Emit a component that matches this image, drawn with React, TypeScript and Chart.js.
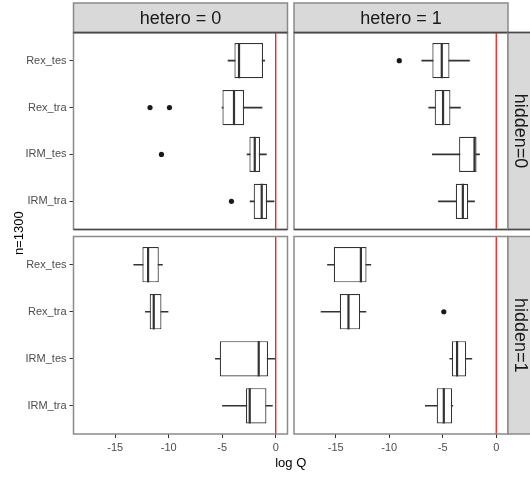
import React, { useEffect, useRef } from "react";
import { Chart, registerables } from "chart.js";

Chart.register(...registerables);
Chart.defaults.font.family = "'Liberation Sans', Arial, sans-serif";

// ---------- data ----------
const categories = ["Rex_tes", "Rex_tra", "IRM_tes", "IRM_tra"];
const xTickValues = [-15, -10, -5, 0];
const heteroLabels = ["hetero = 0", "hetero = 1"];
const hiddenLabels = ["hidden=0", "hidden=1"];
const xTitle = "log Q";
const yTitle = "n=1300";
const refLine = 0;

// hetero = 0, hidden = 0
const het0hid0Low = [-4.46, -5.02, -2.68, -2.4];
const het0hid0Q1 = [-3.86, -4.98, -2.46, -2.06];
const het0hid0Med = [-3.43, -3.9, -1.96, -1.31];
const het0hid0Q3 = [-1.19, -2.96, -1.47, -0.81];
const het0hid0High = [-1.03, -1.28, -0.87, -0.16];
const het0hid0Out = [[], [-11.75, -9.93], [-10.68], [-4.14]];

// hetero = 1, hidden = 0
const het1hid0Low = [-6.96, -6.31, -5.97, -5.4];
const het1hid0Q1 = [-5.97, -5.75, -3.47, -3.78];
const het1hid0Med = [-5.09, -4.97, -2.03, -3.12];
const het1hid0Q3 = [-4.37, -4.28, -1.84, -2.62];
const het1hid0High = [-2.5, -3.34, -1.56, -2.03];
const het1hid0Out = [[-9.06], [], [], []];

// hetero = 0, hidden = 1
const het0hid1Low = [-13.27, -12.18, -5.64, -4.98];
const het0hid1Q1 = [-12.46, -11.78, -5.23, -2.78];
const het0hid1Med = [-11.93, -11.4, -1.59, -2.43];
const het0hid1Q3 = [-10.93, -10.68, -0.72, -0.87];
const het0hid1High = [-10.59, -10.06, 0, -0.31];
const het0hid1Out: number[][] = [[], [], [], []];

// hetero = 1, hidden = 1
const het1hid1Low = [-15.77, -16.37, -4.34, -6.63];
const het1hid1Q1 = [-15.18, -14.62, -4.15, -5.56];
const het1hid1Med = [-12.65, -13.81, -3.66, -4.9];
const het1hid1Q3 = [-12.12, -12.72, -2.81, -4.12];
const het1hid1High = [-11.72, -12.18, -2.28, -4.06];
const het1hid1Out = [[], [-4.9], [], []];

type PanelDef = {
  row: number;
  col: number;
  low: number[];
  q1: number[];
  med: number[];
  q3: number[];
  high: number[];
  out: number[][];
};

const panels: PanelDef[] = [
  { row: 0, col: 0, low: het0hid0Low, q1: het0hid0Q1, med: het0hid0Med, q3: het0hid0Q3, high: het0hid0High, out: het0hid0Out },
  { row: 0, col: 1, low: het1hid0Low, q1: het1hid0Q1, med: het1hid0Med, q3: het1hid0Q3, high: het1hid0High, out: het1hid0Out },
  { row: 1, col: 0, low: het0hid1Low, q1: het0hid1Q1, med: het0hid1Med, q3: het0hid1Q3, high: het0hid1High, out: het0hid1Out },
  { row: 1, col: 1, low: het1hid1Low, q1: het1hid1Q1, med: het1hid1Med, q3: het1hid1Q3, high: het1hid1High, out: het1hid1Out },
];

// ---------- layout / style ----------
const W = 530;
const H = 479;
const X_MIN = -18.9;
const X_MAX = 1.1;
const Y_MIN = -0.6;
const Y_MAX = 3.6;
const FONT = "'Liberation Sans', Arial, sans-serif";
const BOX_COLOR = "#333333";
const PANEL_SIDE = "#8a8a8a";
const PANEL_EDGE = "#4a4a4a";
const STRIP_FILL = "#d9d9d9";

const colPad = [
  { left: 0, axisW: 73.5, right: W - 287.5 },
  { left: 294, axisW: 0, right: W - 508 },
];
const rowPad = [
  { top: 32.5, bottom: H - 229.5, axisH: 0 },
  { top: 236.5, bottom: H - 434 - 20, axisH: 20 },
];

function makeConfig(p: PanelDef): any {
  const boxData = categories.map((_, i) => ({ x: [p.q1[i], p.q3[i]], y: i }));
  const whiskerData = categories.map((_, i) => ({ x: [p.low[i], p.high[i]], y: i }));
  const outData: { x: number; y: number }[] = [];
  p.out.forEach((arr, i) => arr.forEach((v) => outData.push({ x: v, y: i })));

  const decor = {
    id: "facetDecor",
    afterDatasetsDraw(chart: any) {
      const ctx = chart.ctx;
      const xs = chart.scales.x;
      const ys = chart.scales.y;
      const { top, bottom } = chart.chartArea;
      // reference line
      ctx.save();
      ctx.strokeStyle = "#ff0000";
      ctx.lineWidth = 1.2;
      const rx = xs.getPixelForValue(refLine);
      ctx.beginPath();
      ctx.moveTo(rx, top);
      ctx.lineTo(rx, bottom);
      ctx.stroke();
      // medians
      const meta = chart.getDatasetMeta(0);
      ctx.strokeStyle = BOX_COLOR;
      ctx.lineWidth = 2.2;
      p.med.forEach((m, i) => {
        const el = meta.data[i];
        const h = el.height;
        const px = xs.getPixelForValue(m);
        const py = ys.getPixelForValue(i);
        ctx.beginPath();
        ctx.moveTo(px, py - h / 2);
        ctx.lineTo(px, py + h / 2);
        ctx.stroke();
      });
      ctx.restore();
    },
    afterDraw(chart: any) {
      const ctx = chart.ctx;
      const { left, right, top, bottom } = chart.chartArea;
      ctx.save();
      // panel border
      ctx.lineWidth = 1.5;
      ctx.strokeStyle = PANEL_SIDE;
      ctx.strokeRect(left, top, right - left, bottom - top);
      ctx.strokeStyle = PANEL_EDGE;
      ctx.beginPath();
      if (p.row === 0) {
        ctx.moveTo(left, top);
        ctx.lineTo(right, top);
        ctx.moveTo(left, bottom);
        ctx.lineTo(right, bottom);
      }
      ctx.stroke();

      // top strip
      if (p.row === 0) {
        const sTop = 3;
        ctx.fillStyle = STRIP_FILL;
        ctx.fillRect(left, sTop, right - left, top - sTop);
        ctx.strokeStyle = PANEL_SIDE;
        ctx.lineWidth = 1.5;
        ctx.strokeRect(left, sTop, right - left, top - sTop);
        ctx.strokeStyle = PANEL_EDGE;
        ctx.beginPath();
        ctx.moveTo(left, top);
        ctx.lineTo(right, top);
        ctx.stroke();
        ctx.fillStyle = "#1a1a1a";
        ctx.font = `18px ${FONT}`;
        ctx.textAlign = "center";
        ctx.textBaseline = "middle";
        ctx.fillText(heteroLabels[p.col], (left + right) / 2, (sTop + top) / 2 + 1);
      }
      // right strip
      if (p.col === 1) {
        const sw = 24;
        ctx.fillStyle = STRIP_FILL;
        ctx.fillRect(right, top, sw, bottom - top);
        ctx.strokeStyle = PANEL_SIDE;
        ctx.lineWidth = 1.5;
        ctx.strokeRect(right, top, sw, bottom - top);
        if (p.row === 0) {
          ctx.strokeStyle = PANEL_EDGE;
          ctx.beginPath();
          ctx.moveTo(right, top);
          ctx.lineTo(right + sw, top);
          ctx.moveTo(right, bottom);
          ctx.lineTo(right + sw, bottom);
          ctx.stroke();
        }
        ctx.save();
        ctx.translate(right + 12, (top + bottom) / 2);
        ctx.rotate(Math.PI / 2);
        ctx.fillStyle = "#1a1a1a";
        ctx.font = `18px ${FONT}`;
        ctx.textAlign = "center";
        ctx.textBaseline = "middle";
        ctx.fillText(hiddenLabels[p.row], 0, 0);
        ctx.restore();
      }
      // axis titles (drawn once, on the bottom-left panel)
      if (p.row === 1 && p.col === 0) {
        ctx.fillStyle = "#000000";
        ctx.font = `13px ${FONT}`;
        ctx.textAlign = "center";
        ctx.textBaseline = "middle";
        ctx.fillText(xTitle, (73.5 + 508) / 2, 463);
        ctx.save();
        ctx.translate(19, (32.5 + 434) / 2);
        ctx.rotate(-Math.PI / 2);
        ctx.fillText(yTitle, 0, 0);
        ctx.restore();
      }
      ctx.restore();
    },
  };

  const cp = colPad[p.col];
  const rp = rowPad[p.row];

  return {
    type: "bar",
    data: {
      datasets: [
        {
          type: "bar",
          indexAxis: "y",
          data: boxData,
          backgroundColor: "#ffffff",
          borderColor: BOX_COLOR,
          borderWidth: 1.2,
          borderSkipped: false,
          grouped: false,
          barPercentage: 0.75,
          categoryPercentage: 1,
          order: 1,
        },
        {
          type: "bar",
          indexAxis: "y",
          data: whiskerData,
          backgroundColor: BOX_COLOR,
          borderWidth: 0,
          grouped: false,
          barThickness: 1,
          order: 2,
        },
        {
          type: "scatter",
          data: outData,
          backgroundColor: "#1a1a1a",
          borderWidth: 0,
          pointRadius: 2.6,
          order: 0,
        },
      ],
    },
    options: {
      animation: false,
      responsive: false,
      indexAxis: "y",
      events: [],
      layout: {
        padding: { left: cp.left, right: cp.right, top: rp.top, bottom: rp.bottom },
      },
      plugins: { legend: { display: false }, tooltip: { enabled: false } },
      scales: {
        x: {
          type: "linear",
          min: X_MIN,
          max: X_MAX,
          offset: false,
          display: p.row === 1,
          afterBuildTicks: (axis: any) => {
            axis.ticks = xTickValues.map((v) => ({ value: v }));
          },
          afterFit: (axis: any) => {
            axis.height = rp.axisH;
          },
          grid: {
            offset: false,
            drawOnChartArea: false,
            drawTicks: true,
            tickLength: 4,
            tickColor: "#333333",
            tickWidth: 1,
          },
          border: { display: false },
          ticks: {
            color: "#4d4d4d",
            font: { size: 11, family: FONT },
            padding: 3,
            maxRotation: 0,
            callback: (v: any) => String(v),
          },
        },
        y: {
          type: "linear",
          min: Y_MIN,
          max: Y_MAX,
          reverse: true,
          offset: false,
          display: p.col === 0,
          afterBuildTicks: (axis: any) => {
            axis.ticks = categories.map((_, i) => ({ value: i }));
          },
          afterFit: (axis: any) => {
            axis.width = cp.axisW;
          },
          grid: {
            offset: false,
            drawOnChartArea: false,
            drawTicks: true,
            tickLength: 4,
            tickColor: "#333333",
            tickWidth: 1,
          },
          border: { display: false },
          ticks: {
            color: "#4d4d4d",
            font: { size: 11, family: FONT },
            padding: 3,
            callback: (v: any) => categories[v] ?? "",
          },
        },
      },
    },
    plugins: [decor],
  };
}

function PanelChart({ panel }: { panel: PanelDef }) {
  const ref = useRef<HTMLCanvasElement>(null);
  useEffect(() => {
    if (!ref.current) return;
    const chart = new Chart(ref.current, makeConfig(panel));
    return () => chart.destroy();
  }, [panel]);
  return (
    <canvas
      ref={ref}
      width={W}
      height={H}
      style={{ position: "absolute", left: 0, top: 0, width: W, height: H }}
    />
  );
}

export default function App() {
  return (
    <div
      style={{
        position: "fixed",
        left: 0,
        top: 0,
        width: W,
        height: H,
        background: "#ffffff",
        overflow: "hidden",
      }}
    >
      {panels.map((p, i) => (
        <PanelChart key={i} panel={p} />
      ))}
    </div>
  );
}
